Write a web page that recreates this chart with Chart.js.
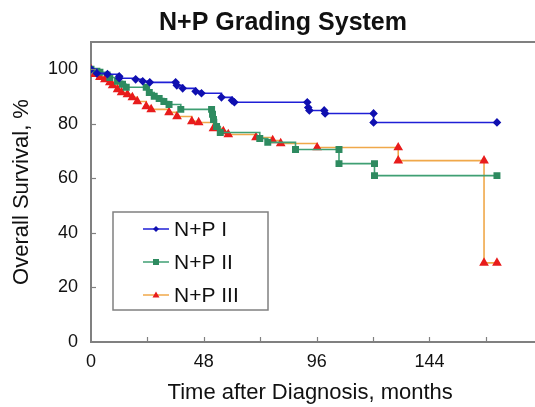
<!DOCTYPE html>
<html>
<head>
<meta charset="utf-8">
<script src="https://cdn.jsdelivr.net/npm/chart.js@4/dist/chart.umd.min.js"></script>
<style>
html,body{margin:0;padding:0;background:#fff;overflow:hidden;}
#wrap{width:535px;height:407px;position:relative;}
</style>
</head>
<body>
<div id="wrap"><canvas id="c" width="535" height="407"></canvas></div>
<script>
// ---- data ----
const chartTitle = "N+P Grading System";
const seriesLabels = ["N+P I", "N+P II", "N+P III"];

const monthsI   = [0, 2.5, 7, 12, 12, 19, 22, 25, 36, 36.5, 39, 44.5, 47, 55.5, 60, 61, 92, 92.4, 92.9, 99.2, 99.6, 120.2, 120.2, 172.7];
const survivalI = [100, 98.5, 98.2, 97.4, 96.7, 96.3, 95.6, 95.2, 95.2, 94.1, 93, 91.9, 91.2, 89.7, 88.6, 87.9, 87.9, 86.0, 84.9, 84.9, 83.8, 83.8, 80.5, 80.5];

const monthsII   = [0, 2.5, 3.8, 8, 11.3, 13.4, 15, 23.5, 24.8, 26.9, 29, 31, 33.2, 38.2, 51.3, 51.7, 52.1, 53.4, 55, 71.8, 75.2, 87, 105.5, 105.5, 120.6, 120.6, 172.7];
const survivalII = [100, 99.3, 98.9, 97, 95.6, 94.5, 93.4, 93.4, 91.5, 90.1, 89.3, 88.2, 87.1, 85.3, 85.3, 83.5, 81.6, 79, 76.8, 74.6, 73.2, 70.6, 70.6, 65.4, 65.4, 61, 61];

const monthsIII   = [0, 1.7, 3.8, 5.9, 8, 9.2, 11.3, 13, 15.5, 17.6, 19.7, 23.5, 25.6, 33.2, 36.6, 42.9, 45.8, 52.1, 56.3, 58.4, 70.2, 77.3, 80.7, 96.2, 130.7, 130.7, 167.2, 167.2, 172.7];
const survivalIII = [100, 98.2, 97.1, 96.3, 95.2, 94.1, 92.6, 91.5, 90.8, 89.7, 88.2, 86.4, 85.3, 84.2, 82.7, 80.9, 80.5, 78.3, 77.2, 76.1, 75, 73.9, 72.8, 71.3, 71.3, 66.5, 66.5, 29, 29];

const xTicks = [0, 24, 48, 72, 96, 120, 144, 168];
const xTickLabels = [0, 48, 96, 144];
const yTicks = [0, 20, 40, 60, 80, 100];

const toPoints = (xs, ys) => xs.map((x, i) => ({x: x, y: ys[i]}));

const AXIS = '#808080';
const FONT = 'Liberation Sans, Arial, sans-serif';

const decorPlugin = {
  id: 'decor',
  afterDraw(chart) {
    const ctx = chart.ctx;
    const a = chart.chartArea;
    const xs = chart.scales.x, ys = chart.scales.y;
    ctx.save();
    // top frame line and full-width bottom axis line
    ctx.strokeStyle = AXIS; ctx.lineWidth = 2;
    ctx.beginPath(); ctx.moveTo(a.left - 1, a.top); ctx.lineTo(535, a.top); ctx.stroke();
    ctx.beginPath(); ctx.moveTo(a.left - 1, a.bottom); ctx.lineTo(535, a.bottom); ctx.stroke();
    // inward tick marks
    ctx.lineWidth = 1.2;
    xs.ticks.forEach(t => {
      if (t.value === 0) return;
      const px = Math.round(xs.getPixelForValue(t.value)) + 0.5;
      ctx.beginPath(); ctx.moveTo(px, a.bottom); ctx.lineTo(px, a.bottom - 5); ctx.stroke();
    });
    ys.ticks.forEach(t => {
      if (t.value === 0) return;
      const py = Math.round(ys.getPixelForValue(t.value)) + 0.5;
      ctx.beginPath(); ctx.moveTo(a.left, py); ctx.lineTo(a.left + 5, py); ctx.stroke();
    });
    // title
    ctx.fillStyle = '#111';
    ctx.font = 'bold 25px ' + FONT;
    ctx.textAlign = 'center'; ctx.textBaseline = 'middle';
    ctx.fillText(chartTitle, 283, 23);
    // legend box
    const bx = 113, by = 212, bw = 155, bh = 98;
    ctx.fillStyle = '#fff';
    ctx.fillRect(bx, by, bw, bh);
    ctx.strokeStyle = AXIS; ctx.lineWidth = 1.5;
    ctx.strokeRect(bx, by, bw, bh);
    const rows = [229, 262, 295];
    chart.data.datasets.forEach((ds, i) => {
      const y = rows[i];
      ctx.strokeStyle = ds.borderColor; ctx.lineWidth = 1.5;
      ctx.beginPath(); ctx.moveTo(143, y); ctx.lineTo(169, y); ctx.stroke();
      ctx.fillStyle = ds.pointBackgroundColor;
      const cx = 156;
      ctx.beginPath();
      if (ds.pointStyle === 'rectRot') {
        ctx.moveTo(cx, y - 3); ctx.lineTo(cx + 3, y); ctx.lineTo(cx, y + 3); ctx.lineTo(cx - 3, y); ctx.closePath();
      } else if (ds.pointStyle === 'rect') {
        ctx.rect(cx - 3, y - 3, 6, 6);
      } else {
        ctx.moveTo(cx, y - 3.5); ctx.lineTo(cx + 3.5, y + 2.5); ctx.lineTo(cx - 3.5, y + 2.5); ctx.closePath();
      }
      ctx.fill();
      ctx.fillStyle = '#111';
      ctx.font = '21px ' + FONT;
      ctx.textAlign = 'left'; ctx.textBaseline = 'middle';
      ctx.fillText(ds.label, 174, y + 1);
    });
    ctx.restore();
  }
};

new Chart(document.getElementById('c'), {
  type: 'line',
  data: {
    datasets: [
      {
        label: seriesLabels[0],
        data: toPoints(monthsI, survivalI),
        borderColor: '#1f1fd6', backgroundColor: '#1010b0',
        pointBackgroundColor: '#1010b0', pointBorderColor: '#1010b0',
        pointStyle: 'rectRot', pointRadius: 3.2, borderWidth: 1.6, stepped: 'before'
      },
      {
        label: seriesLabels[1],
        data: toPoints(monthsII, survivalII),
        borderColor: '#3f9f73', backgroundColor: '#2e8b60',
        pointBackgroundColor: '#2e8b60', pointBorderColor: '#2e8b60',
        pointStyle: 'rect', pointRadius: 3.8, borderWidth: 1.6, stepped: 'before'
      },
      {
        label: seriesLabels[2],
        data: toPoints(monthsIII, survivalIII),
        borderColor: '#f0a84a', backgroundColor: '#e81c1c',
        pointBackgroundColor: '#e81c1c', pointBorderColor: '#e81c1c',
        pointStyle: 'triangle', pointRadius: 4, borderWidth: 1.6, stepped: 'before'
      }
    ]
  },
  options: {
    responsive: false,
    animation: false,
    layout: { padding: { top: 42, left: 0, right: 0, bottom: 0 } },
    plugins: { legend: { display: false }, title: { display: false }, tooltip: { enabled: false } },
    scales: {
      x: {
        type: 'linear', min: 0, max: 186.5,
        afterBuildTicks: s => { s.ticks = xTicks.map(v => ({ value: v })); },
        afterFit: s => { s.height = 65; },
        grid: { display: false, drawTicks: false },
        border: { display: true, color: AXIS, width: 2 },
        ticks: {
          padding: 9, color: '#111', font: { family: FONT, size: 18 },
          autoSkip: false, maxRotation: 0,
          callback: v => (xTickLabels.includes(v) ? String(v) : '')
        },
        title: { display: true, text: 'Time after Diagnosis, months', color: '#111',
                 font: { family: FONT, size: 22 }, padding: { top: 0, bottom: 1 } }
      },
      y: {
        type: 'linear', min: 0, max: 110,
        afterBuildTicks: s => { s.ticks = yTicks.map(v => ({ value: v })); },
        afterFit: s => { s.width = 91; },
        grid: { display: false, drawTicks: false },
        border: { display: true, color: AXIS, width: 2 },
        ticks: { padding: 13, color: '#111', font: { family: FONT, size: 18 } },
        title: { display: true, text: 'Overall Survival, %', color: '#111',
                 font: { family: FONT, size: 22 }, padding: { top: 9, bottom: 0 } }
      }
    }
  },
  plugins: [decorPlugin]
});
</script>
</body>
</html>
